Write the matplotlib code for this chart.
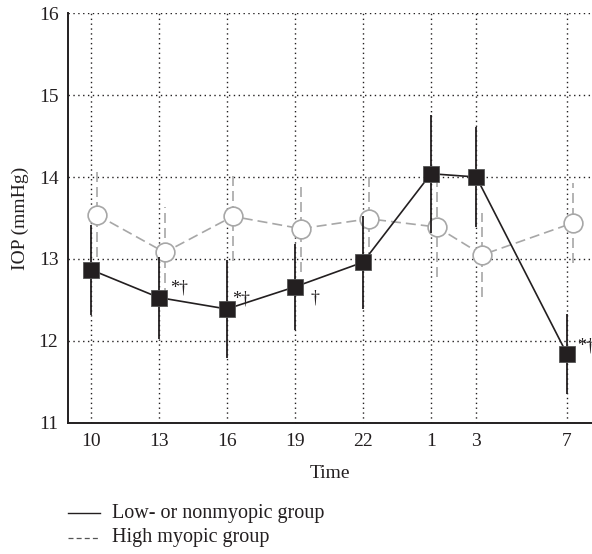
import matplotlib.pyplot as plt
import numpy as np

# Datos (horas del registro; 1, 3, 7 son del día siguiente)
hora_label = ['10', '13', '16', '19', '22', '1', '3', '7']
hora = [10, 13, 16, 19, 22, 25, 27, 31]

bajo_media = [12.87, 12.53, 12.39, 12.66, 12.96, 14.04, 14.00, 11.84]
bajo_sd = [0.55, 0.50, 0.60, 0.52, 0.57, 0.72, 0.61, 0.49]

alto_media = [13.54, 13.08, 13.52, 13.37, 13.49, 13.39, 13.05, 13.44]
alto_sd = [0.52, 0.55, 0.54, 0.53, 0.53, 0.61, 0.51, 0.49]

marcas = ['', '*†', '*†', '†', '', '', '', '*†']
# desplazamiento de cada marca en puntos
marca_dx = [0, 8, 4, 11, 0, 0, 0, 7]
marca_dy = [0, 7, 7, -8, 0, 0, 0, 6]

negro = '#231f20'
gris = '#a7a7a7'

plt.rcParams['font.family'] = ['Liberation Serif', 'DejaVu Serif']

fig = plt.figure(figsize=(5.92, 5.54), dpi=100)
ax = fig.add_axes([0.115, 0.2365, 0.885, 0.74])

x_alto = np.array(hora) + 0.26

# grupo alto (gris, discontinuo)
eb = ax.errorbar(x_alto, alto_media, yerr=alto_sd, fmt='none', ecolor=gris,
                 elinewidth=1.2, capsize=0, zorder=2)
eb.lines[2][0].set_linestyle((0, (6, 3)))
ax.plot(x_alto, alto_media, color=gris, linestyle=(0, (6, 3)), linewidth=1.2,
        marker='o', markersize=13.5, markerfacecolor='white',
        markeredgecolor=gris, markeredgewidth=1.2, zorder=3)

# grupo bajo (negro, continuo)
ax.errorbar(hora, bajo_media, yerr=bajo_sd, fmt='none', ecolor=negro,
            elinewidth=1.3, capsize=0, zorder=4)
ax.plot(hora, bajo_media, color=negro, linewidth=1.2, marker='s',
        markersize=11.5, markerfacecolor=negro, markeredgecolor='#555555',
        markeredgewidth=0.6, zorder=5)

for i in range(len(hora)):
    if marcas[i]:
        ax.annotate(marcas[i], (hora[i], bajo_media[i]),
                    xytext=(marca_dx[i], marca_dy[i]), textcoords='offset points',
                    ha='left', va='center', fontsize=13, color=negro,
                    annotation_clip=False)

ax.set_xlim(9, 32.1)
ax.set_ylim(11, 16)
ax.set_xticks(hora)
ax.set_xticklabels(hora_label)
ax.set_yticks([11, 12, 13, 14, 15, 16])
ax.tick_params(length=0, labelsize=14, pad=7, colors=negro)

ax.grid(True, color=negro, linestyle=(0, (1, 2.5)), linewidth=1.0)
ax.set_axisbelow(True)
for s in ['top', 'right']:
    ax.spines[s].set_visible(False)
for s in ['left', 'bottom']:
    ax.spines[s].set_linewidth(1.4)
    ax.spines[s].set_color(negro)

ax.set_xlabel('Time', fontsize=14, labelpad=11, color=negro)
ax.set_ylabel('IOP (mmHg)', fontsize=14, labelpad=7, color=negro)

# leyenda debajo
fig.add_artist(plt.Line2D([0.115, 0.169], [0.074, 0.074], color=negro, linewidth=1.0))
fig.add_artist(plt.Line2D([0.115, 0.169], [0.029, 0.029], color='#555555', linewidth=0.9,
                          linestyle=(0, (4, 2.5))))
fig.text(0.189, 0.074, 'Low- or nonmyopic group', fontsize=14.5, va='center', color=negro)
fig.text(0.189, 0.029, 'High myopic group', fontsize=14.5, va='center', color=negro)

fig.savefig('out.png', dpi=100)
